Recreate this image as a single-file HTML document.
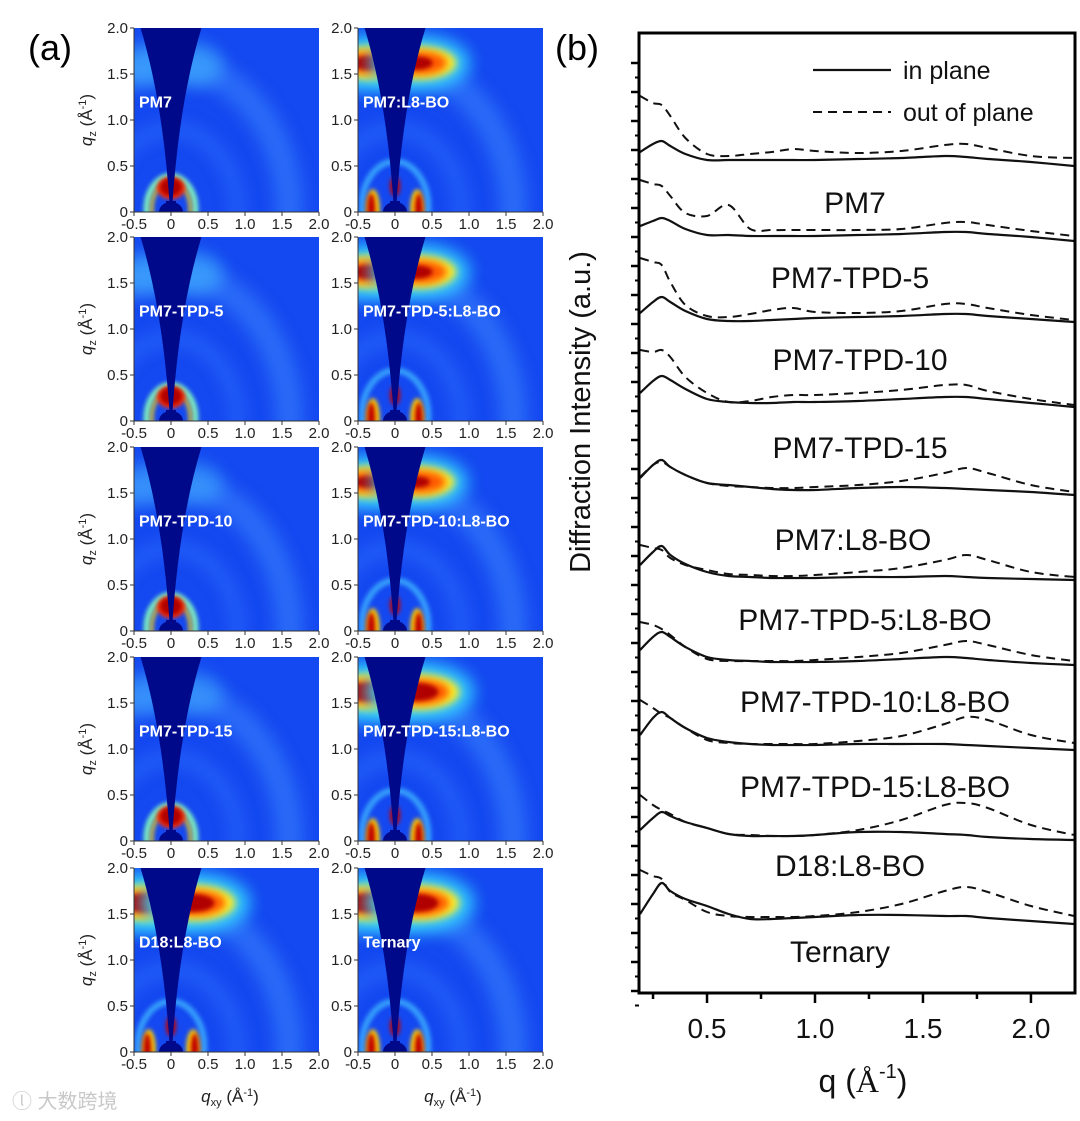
<!DOCTYPE html>
<html><head><meta charset="utf-8">
<style>
html,body{margin:0;padding:0;background:#fff;overflow:hidden;width:1080px;height:1121px;}
svg{display:block;font-family:"Liberation Sans",Arial,sans-serif;}
</style></head>
<body>
<svg id="fig" width="1080" height="1121" viewBox="0 0 1080 1121" xmlns="http://www.w3.org/2000/svg">
<defs>
<filter id="b4" x="-50%" y="-50%" width="200%" height="200%"><feGaussianBlur stdDeviation="4"/></filter>
<filter id="b8" x="-50%" y="-50%" width="200%" height="200%"><feGaussianBlur stdDeviation="8"/></filter>
<filter id="b2" x="-50%" y="-50%" width="200%" height="200%"><feGaussianBlur stdDeviation="2"/></filter>
</defs>
<text x="28" y="60" font-size="36">(a)</text>
<text x="555" y="60" font-size="36">(b)</text>
<g id="panelA"></g>
<g id="panelB"></g>
<text x="12" y="1108" font-size="20" fill="#c8c8c8" font-family="'Liberation Sans','Noto Sans CJK SC',sans-serif">ⓛ 大数跨境</text>
</svg>
<script>
// ---------- Panel (a) data ----------
const panelNames = ["PM7","PM7:L8-BO","PM7-TPD-5","PM7-TPD-5:L8-BO","PM7-TPD-10","PM7-TPD-10:L8-BO","PM7-TPD-15","PM7-TPD-15:L8-BO","D18:L8-BO","Ternary"];
const polymerBlob = [1,0,1,0,1,0,1,0,0,0];
const acceptorPeak = [0,0.8,0,0.8,0,0.7,0,1,1,1];
const polymerHalo = [0.5,0.2,0.5,0.2,0.4,0.2,0.4,0.2,0.2,0.2];
const xTicksA = ["-0.5","0","0.5","1.0","1.5","2.0"];
const yTicksA = ["0","0.5","1.0","1.5","2.0"];
const xTickValsA = [-0.5,0,0.5,1.0,1.5,2.0];
const yTickValsA = [0,0.5,1.0,1.5,2.0];

// ---------- Panel (b) data ----------
const qGrid = [0.19,0.25,0.29,0.33,0.4,0.5,0.6,0.7,0.8,0.9,1.0,1.2,1.4,1.6,1.7,1.8,2.0,2.2];
const sampleNames = ["PM7","PM7-TPD-5","PM7-TPD-10","PM7-TPD-15","PM7:L8-BO","PM7-TPD-5:L8-BO","PM7-TPD-10:L8-BO","PM7-TPD-15:L8-BO","D18:L8-BO","Ternary"];
const offsets = [0,75,156,241,329,414,499,584,674,758];
const inPlane = [
 [14,22,25,20,12,6,6,6,6,6,6,7,8,10,9,7,4,0],
 [15,20,23,20,12,6,6,5,5,5,5,6,7,9,9,7,4,0],
 [9,20,25,20,11,3,1,1,2,3,4,5,6,8,8,6,3,0],
 [14,26,31,27,18,8,5,4,4,5,5,6,8,10,10,8,4,0],
 [17,30,35,28,20,12,10,8,6,5,5,7,8,7,6,5,3,0],
 [15,28,34,25,16,8,4,3,2,2,2,3,3,4,3,2,1,0],
 [15,28,33,28,18,8,5,4,3,3,3,4,6,8,7,5,2,0],
 [15,32,38,32,22,12,8,6,5,5,5,6,6,6,5,4,2,0],
 [10,22,28,24,18,12,6,4,4,4,5,8,8,6,5,3,1,0],
 [10,30,41,33,25,18,10,5,5,6,7,9,9,8,8,6,3,0]
];
const outPlane = [
 [70,63,61,50,28,12,10,12,14,17,15,13,15,21,22,18,10,8],
 [61,57,55,45,28,25,36,12,11,11,11,11,12,18,19,16,10,5],
 [64,60,57,40,17,6,5,8,12,14,10,9,11,18,18,14,7,2],
 [57,55,57,50,30,14,5,6,10,12,12,14,17,22,22,16,8,2],
 [18,30,33,28,20,12,9,8,7,7,8,10,14,22,27,22,10,3],
 [35,32,30,22,15,10,6,5,4,4,5,8,12,20,25,20,8,3],
 [43,40,36,30,18,6,4,4,4,4,5,8,12,20,24,20,10,4],
 [50,42,36,32,22,10,7,6,6,6,6,9,14,26,33,30,15,7],
 [45,35,30,26,18,12,6,5,4,4,5,10,20,35,37,32,15,5],
 [54,48,45,32,24,12,8,7,7,7,8,12,20,33,37,32,18,8]
];
const xTicksB = ["0.5","1.0","1.5","2.0"];
const xTickValsB = [0.5,1.0,1.5,2.0];

const NS="http://www.w3.org/2000/svg";
function mk(tag, attrs, parent){const e=document.createElementNS(NS,tag);for(const k in attrs)e.setAttribute(k,attrs[k]);if(parent)parent.appendChild(e);return e;}

// ---------- draw panel (a) ----------
const A=document.getElementById('panelA');
const colX=[134,358], rowY=[28,237,447,657,868], PW=185, PH=184;
panelNames.forEach((name,i)=>{
  const r=Math.floor(i/2), c=i%2, x0=colX[c], y0=rowY[r];
  const px=q=>x0+(q+0.5)*PW/2.5, py=q=>y0+PH-q*PH/2;
  const g=mk('g',{},A);
  
  
  const cid='clip'+i;
  const cp=mk('clipPath',{id:cid},g); mk('rect',{x:x0,y:y0,width:PW,height:PH},cp);
  const im=mk('g',{'clip-path':'url(#'+cid+')'},g);
  mk('rect',{x:x0,y:y0,width:PW,height:PH,fill:'#1448f0'},im);
  mk('ellipse',{cx:px(0),cy:py(0),rx:1.6*PW/2.5,ry:1.6*PH/2,fill:'none',stroke:'#3f8dff','stroke-width':28,opacity:0.5,filter:'url(#b8)'},im);
  mk('ellipse',{cx:px(0),cy:py(0),rx:0.9*PW/2.5,ry:0.9*PH/2,fill:'none',stroke:'#2f70ff','stroke-width':14,opacity:0.6,filter:'url(#b8)'},im);
  const ph=polymerHalo[i];
  mk('ellipse',{cx:px(-0.3),cy:py(1.6),rx:30,ry:22,fill:'#49c8ff',opacity:ph,filter:'url(#b8)'},im);
  mk('ellipse',{cx:px(0.3),cy:py(1.6),rx:30,ry:22,fill:'#49c8ff',opacity:ph,filter:'url(#b8)'},im);
  const ap=acceptorPeak[i];
  if(ap>0){
    [-1,1].forEach(s=>{
      const cx=px(s*0.33), cy=py(1.62), k=0.6+0.4*ap;
      mk('ellipse',{cx:cx,cy:cy,rx:55*k,ry:30*k,fill:'#36d8ff',opacity:0.9,filter:'url(#b8)'},im);
      mk('ellipse',{cx:cx,cy:cy,rx:40*k,ry:18*k,fill:'#ffee20',filter:'url(#b4)'},im);
      mk('ellipse',{cx:cx,cy:cy,rx:30*k,ry:13*k,fill:'#ff5a00',filter:'url(#b4)'},im);
      mk('ellipse',{cx:cx-3,cy:cy,rx:22*k*ap,ry:9*k*ap,fill:'#b00000',filter:'url(#b2)'},im);
    });
  }
  if(polymerBlob[i]){
    mk('ellipse',{cx:px(0),cy:py(0.03),rx:0.33*PW/2.5,ry:0.36*PH/2,fill:'none',stroke:'#7ff0c0','stroke-width':6,filter:'url(#b2)'},im);
    mk('ellipse',{cx:px(0),cy:py(0.03),rx:0.26*PW/2.5,ry:0.3*PH/2,fill:'none',stroke:'#ffd000','stroke-width':3,filter:'url(#b2)'},im);
    mk('ellipse',{cx:px(0),cy:py(0.26),rx:14,ry:11,fill:'#ff3000',filter:'url(#b2)'},im);
    mk('ellipse',{cx:px(0),cy:py(0.27),rx:11,ry:9,fill:'#b00000',filter:'url(#b2)'},im);
  } else {
    mk('ellipse',{cx:px(0),cy:py(0.05),rx:0.45*PW/2.5,ry:0.5*PH/2,fill:'none',stroke:'#3fb8ff','stroke-width':6,opacity:0.8,filter:'url(#b2)'},im);
    [-1,1].forEach(s=>{
      mk('ellipse',{cx:px(s*0.3),cy:py(0.03),rx:7,ry:20,fill:'#ffd000',filter:'url(#b2)'},im);
      mk('ellipse',{cx:px(s*0.32),cy:py(0.03),rx:4,ry:16,fill:'#c00000',filter:'url(#b2)'},im);
    });
    mk('ellipse',{cx:px(0),cy:py(0.28),rx:5,ry:10,fill:'#c00000',filter:'url(#b2)'},im);
  }
  const xc=px(0), yb=py(0.02), yt=py(2.0)-2, hw=0.42*PW/2.5;
  mk('path',{d:`M${xc-1},${yb} Q${xc-hw*0.25},${py(1.2)} ${xc-hw},${yt} L${xc+hw},${yt} Q${xc+hw*0.25},${py(1.2)} ${xc+1},${yb} Z`,fill:'#00098a'},im);
  mk('ellipse',{cx:xc,cy:py(0),rx:12,ry:10,fill:'#00098a'},im);
  mk('rect',{x:xc-5,y:py(0.12),width:10,height:14,fill:'#00098a'},im);
  mk('line',{x1:x0,y1:y0,x2:x0,y2:y0+PH,stroke:'#333','stroke-width':1},g);
  mk('line',{x1:x0,y1:y0+PH,x2:x0+PW,y2:y0+PH,stroke:'#333','stroke-width':1},g);
  yTickValsA.forEach((v,k)=>{
    const t=mk('text',{x:x0-6,y:py(v)+5,'text-anchor':'end','font-size':15,fill:'#222'},g);
    t.textContent=yTicksA[k];
    
    
    mk('line',{x1:x0-4,y1:py(v),x2:x0,y2:py(v),stroke:'#333'},g);
  });
  xTickValsA.forEach((v,k)=>{
    const t=mk('text',{x:px(v),y:y0+PH+17,'text-anchor':'middle','font-size':15,fill:'#222'},g);
    t.textContent=xTicksA[k];
    
    
    mk('line',{x1:px(v),y1:y0+PH,x2:px(v),y2:y0+PH+4,stroke:'#333'},g);
  });
  const lb=mk('text',{x:x0+5,y:py(1.2)+6,'font-size':16,'font-weight':'bold',fill:'#fff'},g);
  lb.textContent=name;
  
  
  if(c===0){
    const yt2=mk('text',{transform:`translate(92,${y0+PH/2}) rotate(-90)`,'text-anchor':'middle','font-size':17,fill:'#222'},A);
    yt2.innerHTML='<tspan font-style="italic">q</tspan><tspan font-size="11" dy="4">z</tspan><tspan dy="-4"> (Å</tspan><tspan font-size="11" dy="-6">-1</tspan><tspan dy="6">)</tspan>';
    
    
  }
});
[[230,'qxy-axis-title-left'],[453,'qxy-axis-title-right']].forEach(([x,n])=>{
  const t=mk('text',{x:x,y:1102,'text-anchor':'middle','font-size':17,fill:'#222'},A);
  t.innerHTML='<tspan font-style="italic">q</tspan><tspan font-size="11" dy="4">xy</tspan><tspan dy="-4"> (Å</tspan><tspan font-size="11" dy="-6">-1</tspan><tspan dy="6">)</tspan>';
  
  
});

// ---------- draw panel (b) ----------
const B=document.getElementById('panelB');
const L=639,R=1075,T=33,Bt=993;
const qMin=0.185,qMax=2.204;
const xs=q=>L+(q-qMin)/(qMax-qMin)*(R-L);
const base0=166;
const ys=(i,v)=>base0+offsets[i]-v;
function smooth(pts){
  let d=`M${pts[0][0].toFixed(1)},${pts[0][1].toFixed(1)}`;
  for(let k=0;k<pts.length-1;k++){
    const p0=pts[Math.max(0,k-1)],p1=pts[k],p2=pts[k+1],p3=pts[Math.min(pts.length-1,k+2)];
    const c1=[p1[0]+(p2[0]-p0[0])/6,p1[1]+(p2[1]-p0[1])/6];
    const c2=[p2[0]-(p3[0]-p1[0])/6,p2[1]-(p3[1]-p1[1])/6];
    d+=` C${c1[0].toFixed(1)},${c1[1].toFixed(1)} ${c2[0].toFixed(1)},${c2[1].toFixed(1)} ${p2[0].toFixed(1)},${p2[1].toFixed(1)}`;
  }
  return d;
}
const cp2=mk('clipPath',{id:'clipB'},B); mk('rect',{x:L,y:T,width:R-L,height:Bt-T},cp2);
const curves=mk('g',{'clip-path':'url(#clipB)'},B);
sampleNames.forEach((n,i)=>{
  const po=outPlane[i].map((v,k)=>[xs(qGrid[k]),ys(i,v)]);
  const pi=inPlane[i].map((v,k)=>[xs(qGrid[k]),ys(i,v)]);
  const o=mk('path',{d:smooth(po),fill:'none',stroke:'#111','stroke-width':2,'stroke-dasharray':'9,6'},curves);
  
  
  const p=mk('path',{d:smooth(pi),fill:'none',stroke:'#111','stroke-width':2.2},curves);
  
  
});
const labelPos=[[855,213],[850,288],[860,370],[860,458],[853,550],[865,630],[875,712],[875,797],[850,876],[840,962]];
sampleNames.forEach((n,i)=>{
  const t=mk('text',{x:labelPos[i][0],y:labelPos[i][1],'text-anchor':'middle','font-size':30,fill:'#111'},B);
  t.textContent=n;
  
  
});
mk('rect',{x:L,y:T,width:R-L,height:Bt-T,fill:'none',stroke:'#000','stroke-width':3},B);
for(let y=T+30;y<Bt;y+=29){mk('line',{x1:L-8,y1:y,x2:L,y2:y,stroke:'#000','stroke-width':2.5},B);mk('line',{x1:L-4,y1:y+14.5,x2:L,y2:y+14.5,stroke:'#000','stroke-width':2},B);}
for(let q=0.25;q<2.2;q+=0.25){const big=Math.abs(q*2-Math.round(q*2))<0.01;mk('line',{x1:xs(q),y1:Bt,x2:xs(q),y2:Bt+(big?10:6),stroke:'#000','stroke-width':2.5},B);}
xTickValsB.forEach((v,k)=>{
  const t=mk('text',{x:xs(v),y:Bt+45,'text-anchor':'middle','font-size':28,fill:'#111'},B);
  t.textContent=xTicksB[k];
  
  
});
const xt=mk('text',{x:863,y:1092,'text-anchor':'middle','font-size':32,fill:'#111'},B);
xt.innerHTML='q (<tspan font-family="Liberation Serif">Å</tspan><tspan font-size="20" dy="-14">-1</tspan><tspan dy="14">)</tspan>';


const yt=mk('text',{transform:'translate(590,412) rotate(-90)','text-anchor':'middle','font-size':29,fill:'#111'},B);
yt.textContent='Diffraction Intensity (a.u.)';


const lg=mk('g',{},B);


mk('line',{x1:813,y1:70,x2:891,y2:70,stroke:'#111','stroke-width':2.2},lg);
mk('line',{x1:813,y1:112,x2:891,y2:112,stroke:'#111','stroke-width':2,'stroke-dasharray':'9,6'},lg);
const l1=mk('text',{x:903,y:79,'font-size':25,fill:'#111'},lg); l1.textContent='in plane';
const l2=mk('text',{x:903,y:121,'font-size':25,fill:'#111'},lg); l2.textContent='out of plane';
</script>
</body></html>
